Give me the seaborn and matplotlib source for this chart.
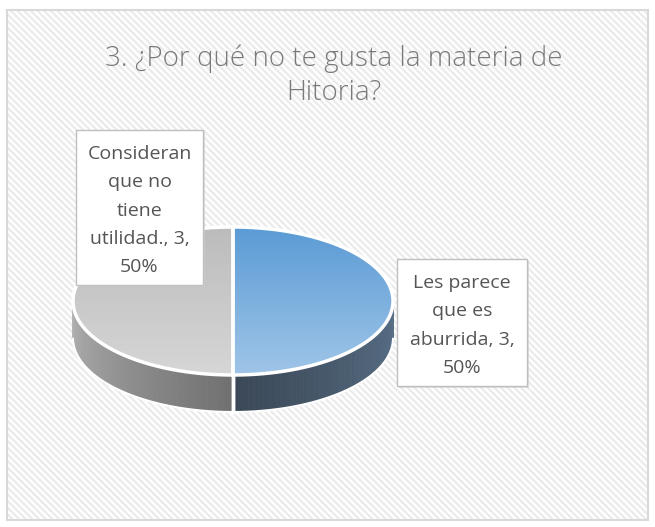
import numpy as np
import matplotlib.pyplot as plt
import seaborn as sns
from matplotlib.patches import Polygon, Rectangle

# Datos del gráfico
categorias = ["Les parece que es aburrida", "Consideran que no tiene utilidad."]
valores = [3, 3]
etiquetas = ["Les parece\nque es\naburrida, 3,\n50%",
             "Consideran\nque no\ntiene\nutilidad., 3,\n50%"]
titulo = "3. ¿Por qué no te gusta la materia de\nHitoria?"

sns.set_style("white")
plt.rcParams['font.family'] = ['Open Sans', 'DejaVu Sans']
plt.rcParams['hatch.linewidth'] = 1.6

fig = plt.figure(figsize=(6.55, 5.27), dpi=100)
ax = fig.add_axes([0, 0, 1, 1])
ax.set_xlim(0, 655)
ax.set_ylim(527, 0)
ax.axis('off')

# fondo con trama diagonal
ax.add_patch(Rectangle((7, 10), 641, 510, facecolor='white', edgecolor='#ebebeb',
                       hatch='\\\\\\\\\\', lw=0, zorder=0))
ax.add_patch(Rectangle((7, 10), 641, 510, facecolor='none', edgecolor='#d9d9d9',
                       lw=1.5, zorder=1))

ax.text(334, 76, titulo, ha='center', va='center', fontsize=20, color='#7a7a7a',
        fontweight='light', linespacing=1.3, zorder=5)

# geometría del pastel 3D
cx, cy, rx, ry, prof = 233, 301, 160, 74, 37

def punto(t):
    return cx + rx * np.cos(t), cy - ry * np.sin(t)

top_cols = [('#5b9bd5', '#9fc5e8'), ('#bcbcbc', '#d6d6d6')]
side_cols = [('#5a7189', '#3a4857'), ('#707070', '#b2b2b2')]

total = sum(valores)
inicio = np.pi / 2
for i, v in enumerate(valores):
    barrido = 2 * np.pi * v / total
    t = np.linspace(inicio, inicio - barrido, 200)
    xs, ys = punto(t)

    # cara lateral (parte frontal)
    frente = np.sin(t) <= 1e-9
    tf = t[frente]
    if len(tf) > 1:
        c0, c1 = side_cols[i]
        grad = sns.blend_palette([c0, c1], n_colors=len(tf) - 1)
        for k in range(len(tf) - 1):
            xa, ya = punto(tf[k])
            xb, yb = punto(tf[k + 1])
            ax.add_patch(Polygon([(xa, ya), (xb, yb), (xb, yb + prof), (xa, ya + prof)],
                                 closed=True, facecolor=grad[k], edgecolor=grad[k],
                                 lw=0.6, zorder=2))
        xf, yf = punto(tf)
        ax.plot(xf, yf + prof, color='white', lw=1.5, zorder=3)
        for tt in (tf[0], tf[-1]):
            xe, ye = punto(tt)
            if abs(np.cos(tt)) < 1e-6:
                ax.plot([xe, xe], [ye, ye + prof], color='white', lw=2.5, zorder=3)

    # cara superior con degradado
    cara = Polygon([(cx, cy)] + list(zip(xs, ys)), closed=True,
                   facecolor='none', edgecolor='white', lw=2.5, zorder=4)
    ax.add_patch(cara)
    c0, c1 = top_cols[i]
    g = np.array(sns.blend_palette([c0, c1], n_colors=100))[:, None, :3]
    im = ax.imshow(g, extent=(cx - rx, cx + rx, cy + ry, cy - ry), aspect='auto',
                   zorder=3, interpolation='bilinear')
    im.set_clip_path(cara)
    inicio -= barrido

ax.set_xlim(0, 655)
ax.set_ylim(527, 0)

# cuadros de etiquetas
cajas = [(397, 259, 130, 127), (76, 130, 127, 155)]
for (x0, y0, w, h), txt in zip(cajas, etiquetas):
    ax.add_patch(Rectangle((x0 + 2, y0 + 2), w, h, facecolor='#d0d0d0', edgecolor='none',
                           alpha=0.6, zorder=6))
    ax.add_patch(Rectangle((x0, y0), w, h, facecolor='white', edgecolor='#bfbfbf',
                           lw=1, zorder=7))
    ax.text(x0 + w / 2, y0 + h / 2 + 3, txt, ha='center', va='center', fontsize=14,
            color='#555555', linespacing=1.72, zorder=8)

fig.savefig('out.png', dpi=100)
